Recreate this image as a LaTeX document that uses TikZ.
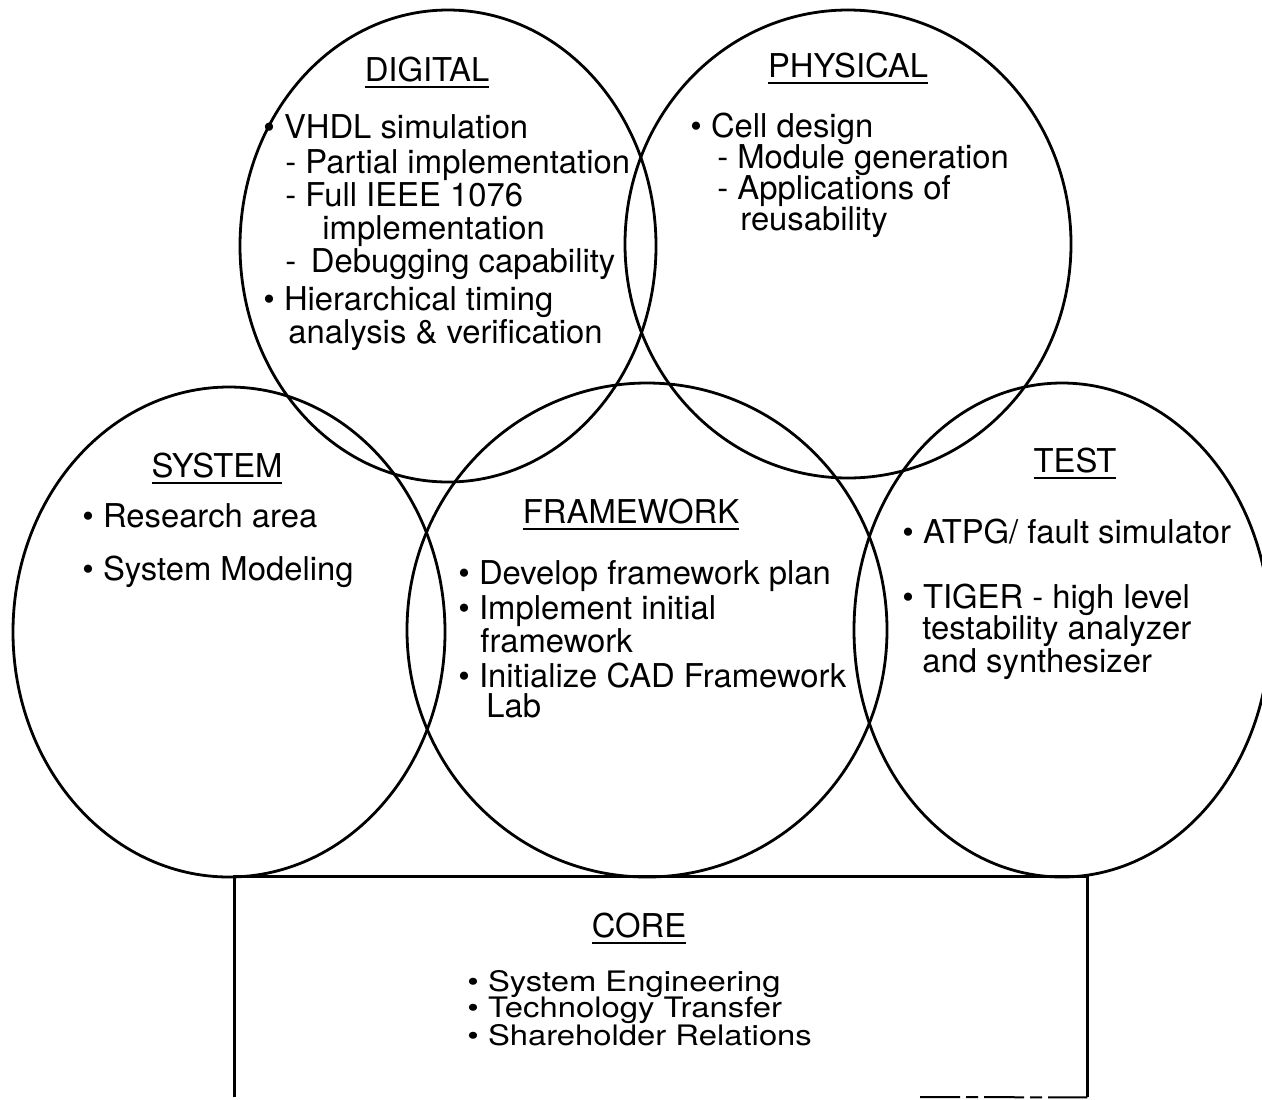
\documentclass[tikz,border=0pt]{standalone}
\usepackage{fontspec}
\usepackage{graphicx}
\setmainfont{TeX Gyre Heros}
\usetikzlibrary{shapes.geometric}
\newsavebox\headbox
\newcommand{\ulhead}[1]{\sbox\headbox{#1}\rlap{\rule[-3.6pt]{\wd\headbox}{1.3pt}}\usebox\headbox}
\begin{document}
\begin{tikzpicture}[x=0.5pt, y=-0.5pt,
    area/.style={draw, ellipse, line width=1.4pt, inner sep=0pt},
    head/.style={anchor=base, inner sep=0pt, font=\fontsize{16.4}{16.5}\selectfont},
    list/.style={anchor=base west, align=left, inner sep=0pt, font=\fontsize{16.4}{16.5}\selectfont}]
  \useasboundingbox (0,0) rectangle (1262,1099);
  % the five areas
  \node[area, minimum width=208pt, minimum height=236pt] (digital) at (448,246) {};
  \node[area, minimum width=223pt, minimum height=234pt] (physical) at (848,244) {};
  \node[area, minimum width=216pt, minimum height=245pt] (system) at (229,632) {};
  \node[area, minimum width=240pt, minimum height=247pt] (framework) at (647,630) {};
  \node[area, minimum width=208pt, minimum height=247pt] (test) at (1062,630) {};
  % core box, open at the bottom
  \node[minimum width=426pt, minimum height=110pt, inner sep=0pt] (core) at (661,987) {};
  \draw[line width=1.4pt] (core.south west) -- (core.north west) -- (core.north east) -- (core.south east);
  \coordinate (coregap) at (920,1097);
  \draw[line width=1pt, dash pattern=on 20pt off 3pt on 6pt off 3pt] (coregap) -- (core.south east);
  % headings
  \node[head] (digitalhead) at (427,81) {\ulhead{DIGITAL}};
  \node[head] (physicalhead) at (848,77) {\ulhead{PHYSICAL}};
  \node[head] (systemhead) at (217,477) {\ulhead{SYSTEM}};
  \node[head] (frameworkhead) at (631,523) {\ulhead{FRAMEWORK}};
  \node[head] (testhead) at (1075,472) {\ulhead{TEST}};
  \node[head] (corehead) at (639,937) {\ulhead{CORE}};
  % item lists (placed by the baseline of their last line)
  \node[list] (digitallist) at (263,343) {%
    \textbullet\ VHDL simulation\\[1pt]
    \hspace*{11pt}- Partial implementation\\
    \hspace*{11pt}- Full IEEE 1076\\
    \hspace*{29.5pt}implementation\\
    \hspace*{11pt}- \,Debugging capability\\[2.5pt]
    \textbullet\ Hierarchical timing\\
    \hspace*{12.5pt}analysis \& verification};
  \node[list] (physicallist) at (690,230) {%
    \textbullet\ Cell design\\[-1pt]
    \hspace*{13.5pt}- Module generation\\[-1pt]
    \hspace*{13.5pt}- Applications of\\[-1pt]
    \hspace*{25pt}reusability};
  \node[list] (systemlist) at (82,580) {%
    \textbullet\ Research area\\[10pt]
    \textbullet\ System Modeling};
  \node[list] (frameworklist) at (458,717) {%
    \textbullet\ Develop framework plan\\[1pt]
    \textbullet\ Implement initial\\
    \hspace*{11pt}framework\\[1pt]
    \textbullet\ Initialize CAD Framework\\[-1.5pt]
    \hspace*{14pt}Lab};
  \node[list] (testlist) at (902,672) {%
    \textbullet\ ATPG/ fault simulator\\[16pt]
    \textbullet\ TIGER - high level\\[-1pt]
    \hspace*{10pt}testability analyzer\\
    \hspace*{10pt}and synthesizer};
  \node[list] (corelist) at (467,1045) {\scalebox{1}[0.86]{%
    \begin{tabular}[b]{@{}l@{}}
    \textbullet\ System Engineering\\[-1.4pt]
    \textbullet\ Technology Transfer\\[-1.4pt]
    \textbullet\ Shareholder Relations
    \end{tabular}}};
\end{tikzpicture}
\end{document}
